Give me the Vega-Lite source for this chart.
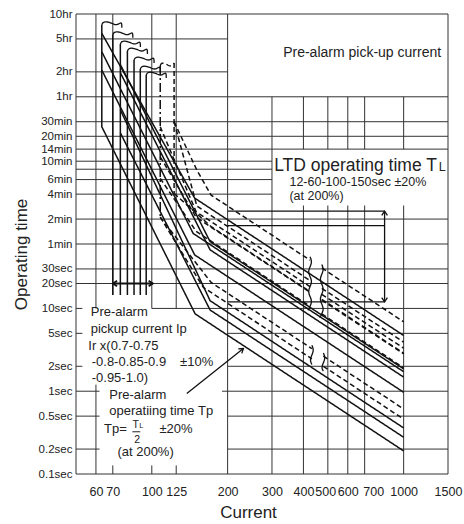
{
"$schema":"https://vega.github.io/schema/vega-lite/v6.json",
"width":372,"height":460,
"autosize":{"type":"none"},
"padding":{"left":76,"top":14,"right":16,"bottom":50},
"background":"white",
"config":{"view":{"stroke":null},"font":"Liberation Sans"},
"encoding":{
 "x":{"field":"x","type":"quantitative","scale":{"type":"log","domain":[50,1500],"nice":false},
  "axis":{"values":[60,70,100,125,200,300,400,488,600,757,1000,1500],"format":"d","labelExpr":"datum.value==757?'700':datum.value==488?'500':datum.label","grid":false,"ticks":false,"tickSize":0,"domain":false,"labelFontSize":12.5,"labelFont":"Liberation Sans","labelColor":"#222","labelPadding":11,"labelOverlap":false,"labelFlush":false,"title":"Current","titleFontSize":17,"titleFont":"Liberation Sans","titleFontWeight":"normal","titleColor":"#222","titleX":172,"titleY":38,"titleBaseline":"middle","titleAlign":"center"}},
 "y":{"field":"t","type":"quantitative","scale":{"type":"log","domain":[0.1,36000],"nice":false},
  "axis":{"values":[0.1,0.2,0.5,1,2,5,10,20,30,60,120,240,360,600,840,1200,1800,3600,7200,18000,36000],
   "labelExpr":"datum.value==36000?'10hr':datum.value==18000?'5hr':datum.value==7200?'2hr':datum.value==3600?'1hr':datum.value==1800?'30min':datum.value==1200?'20min':datum.value==840?'14min':datum.value==600?'10min':datum.value==360?'6min':datum.value==240?'4min':datum.value==120?'2min':datum.value==60?'1min':datum.value+'sec'",
   "grid":false,"ticks":false,"tickSize":0,"domain":false,"labelFontSize":11.5,"labelFont":"Liberation Sans","labelColor":"#222","labelPadding":4,"labelOverlap":false,"labelFlush":false,"labelBaseline":"middle",
   "title":"Operating time","titleFontSize":17,"titleFont":"Liberation Sans","titleFontWeight":"normal","titleColor":"#222","titleX":-55,"titleY":240,"titleAngle":-90,"titleBaseline":"middle","titleAlign":"center"}}
},
"layer":[
 {"data":{"values":[
  {"t":36000,"x":50,"x2":1500},{"t":18000,"x":50,"x2":200},{"t":7200,"x":50,"x2":200},
  {"t":3600,"x":50,"x2":1500},{"t":1800,"x":50,"x2":1500},{"t":1200,"x":50,"x2":1500},{"t":840,"x":50,"x2":1500},
  {"t":600,"x":50,"x2":300},{"t":480,"x":50,"x2":300},{"t":360,"x":50,"x2":300},{"t":240,"x":50,"x2":300},
  {"t":120,"x":50,"x2":1500},{"t":60,"x":50,"x2":1500},{"t":30,"x":50,"x2":1500},{"t":20,"x":50,"x2":1500},
  {"t":10,"x":50,"x2":53},{"t":10,"x":100,"x2":1500},
  {"t":5,"x":50,"x2":53},{"t":5,"x":200,"x2":1500},
  {"t":2,"x":50,"x2":53},{"t":2,"x":200,"x2":1500},
  {"t":1,"x":50,"x2":62},{"t":1,"x":190,"x2":1500},
  {"t":0.5,"x":50,"x2":62},{"t":0.5,"x":200,"x2":1500},
  {"t":0.2,"x":50,"x2":62},{"t":0.2,"x":200,"x2":1500},
  {"t":0.1,"x":50,"x2":1500}]},
  "mark":{"type":"rule","stroke":"#333","strokeWidth":1},
  "encoding":{"x2":{"field":"x2"}}},
 {"data":{"values":[
  {"x":50,"t":0.1,"t2":36000},
  {"x":60,"t":10,"t2":36000},{"x":60,"t":0.1,"t2":1.2},
  {"x":70,"t":14.5,"t2":36000},{"x":70,"t":0.1,"t2":0.127},
  {"x":100,"t":10,"t2":36000},{"x":100,"t":0.1,"t2":0.127},
  {"x":125,"t":10,"t2":36000},{"x":125,"t":0.1,"t2":0.127},
  {"x":200,"t":0.1,"t2":36000},
  {"x":300,"t":0.1,"t2":3600},
  {"x":400,"t":840,"t2":3600},{"x":400,"t":0.1,"t2":175},
  {"x":500,"t":840,"t2":3600},{"x":500,"t":0.1,"t2":175},
  {"x":600,"t":840,"t2":3600},{"x":600,"t":0.1,"t2":175},
  {"x":700,"t":840,"t2":3600},{"x":700,"t":0.1,"t2":175},
  {"x":1000,"t":840,"t2":3600},{"x":1000,"t":0.1,"t2":175},
  {"x":1500,"t":0.1,"t2":36000}]},
  "mark":{"type":"rule","stroke":"#333","strokeWidth":1},
  "encoding":{"y2":{"field":"t2"}}},
 {"data":{"values":[{"t":150,"x":200,"x2":840},{"t":100,"x":200,"x2":840},{"t":12,"x":200,"x2":840}]},
  "mark":{"type":"rule","stroke":"#111","strokeWidth":1.2},
  "encoding":{"x2":{"field":"x2"}}},
 {"data":{"values":[{"x":840,"t":12,"t2":150}]},
  "mark":{"type":"rule","stroke":"#111","strokeWidth":1.3},
  "encoding":{"y2":{"field":"t2"}}},
 {"data":{"values":[{"t":20,"x":70,"x2":101}]},
  "mark":{"type":"rule","stroke":"#111","strokeWidth":2},
  "encoding":{"x2":{"field":"x2"}}},
 {"data":{"values":[{"x":137.7,"t":0.937,"x2":231,"t2":3.28}]},
  "mark":{"type":"rule","stroke":"#111","strokeWidth":1.3},
  "encoding":{"x2":{"field":"x2"},"y2":{"field":"t2"}}},
 {"data":{"values":[{"x":83.7,"x2":90,"t":0.3236}]},
  "mark":{"type":"rule","stroke":"#222","strokeWidth":1},
  "encoding":{"x2":{"field":"x2"}}},
 {"data":{"values":[
  {"id":"P1","st":"s","o":0,"x":63.3,"t":26714},{"id":"P1","st":"s","o":1,"x":63.3,"t":1563},{"id":"P1","st":"s","o":2,"x":148.6,"t":8.6},{"id":"P1","st":"s","o":3,"x":1000,"t":0.19},
  {"id":"P2","st":"s","o":0,"x":63.3,"t":7570},{"id":"P2","st":"s","o":1,"x":148,"t":44.3},{"id":"P2","st":"s","o":2,"x":1000,"t":0.97},
  {"id":"P3","st":"s","o":0,"x":63.3,"t":12600},{"id":"P3","st":"s","o":1,"x":146,"t":80.4},{"id":"P3","st":"s","o":2,"x":1000,"t":1.72},
  {"id":"P4","st":"s","o":0,"x":63.3,"t":21000},{"id":"P4","st":"s","o":1,"x":148,"t":215},{"id":"P4","st":"s","o":2,"x":1000,"t":4.71},
  {"id":"P5","st":"s","o":0,"x":75,"t":1318},{"id":"P5","st":"s","o":1,"x":170.4,"t":9.57},{"id":"P5","st":"s","o":2,"x":1000,"t":0.278},
  {"id":"P6","st":"s","o":0,"x":75,"t":7030},{"id":"P6","st":"s","o":1,"x":170.4,"t":51},{"id":"P6","st":"s","o":2,"x":1000,"t":1.48},
  {"id":"P7","st":"s","o":0,"x":75,"t":8810},{"id":"P7","st":"s","o":1,"x":170.4,"t":64},{"id":"P7","st":"s","o":2,"x":1000,"t":1.86},
  {"id":"P8","st":"s","o":0,"x":75,"t":2500},{"id":"P8","st":"s","o":1,"x":170.4,"t":12.4},{"id":"P8","st":"s","o":2,"x":1000,"t":0.36},
  {"id":"V70","st":"s","o":0,"x":70,"t":20220},{"id":"V70","st":"s","o":1,"x":70,"t":14.5},
  {"id":"V75","st":"s","o":0,"x":75,"t":15611},{"id":"V75","st":"s","o":1,"x":75,"t":14.5},
  {"id":"V80","st":"s","o":0,"x":80,"t":12842},{"id":"V80","st":"s","o":1,"x":80,"t":14.5},
  {"id":"V85","st":"s","o":0,"x":85,"t":10000},{"id":"V85","st":"s","o":1,"x":85,"t":14.5},
  {"id":"V90","st":"s","o":0,"x":90,"t":7784},{"id":"V90","st":"s","o":1,"x":90,"t":14.5},
  {"id":"V95","st":"s","o":0,"x":95,"t":6588},{"id":"V95","st":"s","o":1,"x":95,"t":14.5},
  {"id":"LV1","st":"dd","o":0,"x":108,"t":8463},{"id":"LV1","st":"dd","o":1,"x":108,"t":126.6},
  {"id":"LV2","st":"d","o":0,"x":122.6,"t":9200},{"id":"LV2","st":"d","o":1,"x":122.6,"t":245},
  {"id":"L1a","st":"d","o":0,"x":108,"t":126.6},{"id":"L1a","st":"d","o":1,"x":160,"t":18},{"id":"L1a","st":"d","o":2,"x":432,"t":2.46},
  {"id":"L1b","st":"d","o":0,"x":480,"t":2.0},{"id":"L1b","st":"d","o":1,"x":1000,"t":0.46},
  {"id":"L5a","st":"d","o":0,"x":108,"t":126.6},{"id":"L5a","st":"d","o":1,"x":172,"t":20.6},{"id":"L5a","st":"d","o":2,"x":432,"t":3.27},
  {"id":"L5b","st":"d","o":0,"x":480,"t":2.65},{"id":"L5b","st":"d","o":1,"x":1000,"t":0.61},
  {"id":"L2a","st":"d","o":0,"x":108,"t":372},{"id":"L2a","st":"d","o":1,"x":150,"t":85.3},{"id":"L2a","st":"d","o":2,"x":425,"t":10.6},
  {"id":"L2b","st":"d","o":0,"x":473,"t":8.58},{"id":"L2b","st":"d","o":1,"x":1000,"t":1.92},
  {"id":"L3a","st":"d","o":0,"x":108,"t":678},{"id":"L3a","st":"d","o":1,"x":150,"t":126},{"id":"L3a","st":"d","o":2,"x":425,"t":15.7},
  {"id":"L3b","st":"d","o":0,"x":473,"t":12.6},{"id":"L3b","st":"d","o":1,"x":1000,"t":2.83},
  {"id":"L4a","st":"d","o":0,"x":108,"t":1563},{"id":"L4a","st":"d","o":1,"x":150,"t":147},{"id":"L4a","st":"d","o":2,"x":425,"t":18.3},
  {"id":"L4b","st":"d","o":0,"x":473,"t":14.8},{"id":"L4b","st":"d","o":1,"x":1000,"t":3.31},
  {"id":"L6a","st":"d","o":0,"x":122.6,"t":245},{"id":"L6a","st":"d","o":1,"x":172,"t":97.4},{"id":"L6a","st":"d","o":2,"x":425,"t":15.9},
  {"id":"L6b","st":"d","o":0,"x":473,"t":12.9},{"id":"L6b","st":"d","o":1,"x":1000,"t":2.88},
  {"id":"L7a","st":"d","o":0,"x":122.6,"t":1797},{"id":"L7a","st":"d","o":1,"x":151,"t":172},{"id":"L7a","st":"d","o":2,"x":425,"t":21.7},
  {"id":"L7b","st":"d","o":0,"x":473,"t":17.5},{"id":"L7b","st":"d","o":1,"x":1000,"t":3.92},
  {"id":"L8a","st":"d","o":0,"x":122.6,"t":1797},{"id":"L8a","st":"d","o":1,"x":151,"t":468},{"id":"L8a","st":"d","o":2,"x":172,"t":233},{"id":"L8a","st":"d","o":3,"x":425,"t":38.2},
  {"id":"L8b","st":"d","o":0,"x":473,"t":30.8},{"id":"L8b","st":"d","o":1,"x":1000,"t":6.9}]},
  "mark":{"type":"line","stroke":"#111","strokeWidth":1.5},
  "encoding":{"detail":{"field":"id"},"order":{"field":"o","type":"quantitative"},
   "strokeDash":{"field":"st","type":"nominal","scale":{"domain":["s","d","dd"],"range":[[1,0],[5,3],[9,3,2,3]]},"legend":null}}},
 {"data":{"values":[
  {"id":"Q1","st":"s","o":0,"x":63.3,"t":26714},{"id":"Q1","st":"s","o":1,"x":63.88,"t":28401},{"id":"Q1","st":"s","o":2,"x":65.06,"t":29040},{"id":"Q1","st":"s","o":3,"x":67.48,"t":28799},{"id":"Q1","st":"s","o":4,"x":70.0,"t":27469},{"id":"Q1","st":"s","o":5,"x":71.95,"t":26490},{"id":"Q1","st":"s","o":6,"x":73.95,"t":27240},{"id":"Q1","st":"s","o":7,"x":76.02,"t":29040},{"id":"Q1","st":"s","o":8,"x":76.02,"t":24574},
  {"id":"Q2","st":"s","o":0,"x":70,"t":20220},{"id":"Q2","st":"s","o":1,"x":70.64,"t":21496},{"id":"Q2","st":"s","o":2,"x":71.95,"t":21980},{"id":"Q2","st":"s","o":3,"x":74.63,"t":21798},{"id":"Q2","st":"s","o":4,"x":77.41,"t":20791},{"id":"Q2","st":"s","o":5,"x":79.56,"t":20050},{"id":"Q2","st":"s","o":6,"x":81.78,"t":20617},{"id":"Q2","st":"s","o":7,"x":84.06,"t":21980},{"id":"Q2","st":"s","o":8,"x":84.06,"t":18600},
  {"id":"Q3","st":"s","o":0,"x":75,"t":15611},{"id":"Q3","st":"s","o":1,"x":75.69,"t":16597},{"id":"Q3","st":"s","o":2,"x":77.09,"t":16970},{"id":"Q3","st":"s","o":3,"x":79.96,"t":16829},{"id":"Q3","st":"s","o":4,"x":82.94,"t":16052},{"id":"Q3","st":"s","o":5,"x":85.25,"t":15480},{"id":"Q3","st":"s","o":6,"x":87.62,"t":15918},{"id":"Q3","st":"s","o":7,"x":90.07,"t":16970},{"id":"Q3","st":"s","o":8,"x":90.07,"t":14360},
  {"id":"Q4","st":"s","o":0,"x":80,"t":12842},{"id":"Q4","st":"s","o":1,"x":80.74,"t":13653},{"id":"Q4","st":"s","o":2,"x":82.22,"t":13960},{"id":"Q4","st":"s","o":3,"x":85.29,"t":13844},{"id":"Q4","st":"s","o":4,"x":88.46,"t":13205},{"id":"Q4","st":"s","o":5,"x":90.93,"t":12734},{"id":"Q4","st":"s","o":6,"x":93.46,"t":13094},{"id":"Q4","st":"s","o":7,"x":96.07,"t":13960},{"id":"Q4","st":"s","o":8,"x":96.07,"t":11813},
  {"id":"Q5","st":"s","o":0,"x":85,"t":10000},{"id":"Q5","st":"s","o":1,"x":85.78,"t":10631},{"id":"Q5","st":"s","o":2,"x":87.36,"t":10870},{"id":"Q5","st":"s","o":3,"x":90.62,"t":10780},{"id":"Q5","st":"s","o":4,"x":93.99,"t":10282},{"id":"Q5","st":"s","o":5,"x":96.61,"t":9916},{"id":"Q5","st":"s","o":6,"x":99.31,"t":10196},{"id":"Q5","st":"s","o":7,"x":102.08,"t":10870},{"id":"Q5","st":"s","o":8,"x":102.08,"t":9198},
  {"id":"Q6","st":"s","o":0,"x":90,"t":7784},{"id":"Q6","st":"s","o":1,"x":90.83,"t":8276},{"id":"Q6","st":"s","o":2,"x":92.5,"t":8462},{"id":"Q6","st":"s","o":3,"x":95.95,"t":8392},{"id":"Q6","st":"s","o":4,"x":99.52,"t":8004},{"id":"Q6","st":"s","o":5,"x":102.29,"t":7719},{"id":"Q6","st":"s","o":6,"x":105.15,"t":7937},{"id":"Q6","st":"s","o":7,"x":108.08,"t":8462},{"id":"Q6","st":"s","o":8,"x":108.08,"t":7161},
  {"id":"Q7","st":"s","o":0,"x":95,"t":6588},{"id":"Q7","st":"s","o":1,"x":95.87,"t":7003},{"id":"Q7","st":"s","o":2,"x":97.64,"t":7161},{"id":"Q7","st":"s","o":3,"x":101.28,"t":7102},{"id":"Q7","st":"s","o":4,"x":105.05,"t":6774},{"id":"Q7","st":"s","o":5,"x":107.98,"t":6532},{"id":"Q7","st":"s","o":6,"x":110.99,"t":6717},{"id":"Q7","st":"s","o":7,"x":114.09,"t":7161},{"id":"Q7","st":"s","o":8,"x":114.09,"t":6060},
  {"id":"QD","st":"d","o":0,"x":108,"t":8463},{"id":"QD","st":"d","o":1,"x":108.6,"t":8998},{"id":"QD","st":"d","o":2,"x":109.9,"t":9200},{"id":"QD","st":"d","o":3,"x":112.8,"t":9124},{"id":"QD","st":"d","o":4,"x":115.6,"t":8702},{"id":"QD","st":"d","o":5,"x":117.9,"t":8392},{"id":"QD","st":"d","o":6,"x":120.3,"t":8630},{"id":"QD","st":"d","o":7,"x":122.6,"t":9200},
  {"id":"B1","st":"s","o":0,"x":425,"t":42},{"id":"B1","st":"s","o":1,"x":432.9,"t":36.6},{"id":"B1","st":"s","o":2,"x":425,"t":31.9},{"id":"B1","st":"s","o":3,"x":417.3,"t":27.8},{"id":"B1","st":"s","o":4,"x":425,"t":24.2},{"id":"B1","st":"s","o":5,"x":432.9,"t":21.1},{"id":"B1","st":"s","o":6,"x":425,"t":18.4},{"id":"B1","st":"s","o":7,"x":417.3,"t":16.0},{"id":"B1","st":"s","o":8,"x":425,"t":13.9},{"id":"B1","st":"s","o":9,"x":432.9,"t":12.1},{"id":"B1","st":"s","o":10,"x":425,"t":10.6},{"id":"B1","st":"s","o":11,"x":417.3,"t":9.5},
  {"id":"B2","st":"s","o":0,"x":473,"t":34},{"id":"B2","st":"s","o":1,"x":481.7,"t":29.6},{"id":"B2","st":"s","o":2,"x":473,"t":25.8},{"id":"B2","st":"s","o":3,"x":464.4,"t":22.5},{"id":"B2","st":"s","o":4,"x":473,"t":19.6},{"id":"B2","st":"s","o":5,"x":481.7,"t":17.1},{"id":"B2","st":"s","o":6,"x":473,"t":14.9},{"id":"B2","st":"s","o":7,"x":464.4,"t":12.9},{"id":"B2","st":"s","o":8,"x":473,"t":11.3},{"id":"B2","st":"s","o":9,"x":481.7,"t":9.8},{"id":"B2","st":"s","o":10,"x":473,"t":8.6},{"id":"B2","st":"s","o":11,"x":464.4,"t":7.7},
  {"id":"B3","st":"s","o":0,"x":432,"t":3.6},{"id":"B3","st":"s","o":1,"x":440,"t":3.14},{"id":"B3","st":"s","o":2,"x":432,"t":2.73},{"id":"B3","st":"s","o":3,"x":424.2,"t":2.38},{"id":"B3","st":"s","o":4,"x":432,"t":2.1},
  {"id":"B4","st":"s","o":0,"x":480,"t":2.9},{"id":"B4","st":"s","o":1,"x":488.9,"t":2.53},{"id":"B4","st":"s","o":2,"x":480,"t":2.2},{"id":"B4","st":"s","o":3,"x":471.3,"t":1.92},{"id":"B4","st":"s","o":4,"x":480,"t":1.75}]},
  "mark":{"type":"line","stroke":"#111","strokeWidth":1.3,"interpolate":"basis"},
  "encoding":{"detail":{"field":"id"},"order":{"field":"o","type":"quantitative"},
   "strokeDash":{"field":"st","type":"nominal","scale":{"domain":["s","d","dd"],"range":[[1,0],[5,3],[9,3,2,3]]},"legend":null}}},
 {"data":{"values":[{"x":840,"t":150}]},"mark":{"type":"point","shape":"M -0.6 0.9 L 0 0 L 0.6 0.9","filled":false,"stroke":"#111","strokeWidth":1.3,"size":90,"angle":0,"opacity":1}},
 {"data":{"values":[{"x":840,"t":12}]},"mark":{"type":"point","shape":"M -0.6 0.9 L 0 0 L 0.6 0.9","filled":false,"stroke":"#111","strokeWidth":1.3,"size":90,"angle":180,"opacity":1}},
 {"data":{"values":[{"x":70,"t":20}]},"mark":{"type":"point","shape":"M -0.6 0.9 L 0 0 L 0.6 0.9","filled":false,"stroke":"#111","strokeWidth":1.8,"size":90,"angle":270,"opacity":1}},
 {"data":{"values":[{"x":101,"t":20}]},"mark":{"type":"point","shape":"M -0.6 0.9 L 0 0 L 0.6 0.9","filled":false,"stroke":"#111","strokeWidth":1.8,"size":90,"angle":90,"opacity":1}},
 {"data":{"values":[{"x":231,"t":3.28}]},"mark":{"type":"point","shape":"M -0.6 0.9 L 0 0 L 0.6 0.9","filled":false,"stroke":"#111","strokeWidth":1.3,"size":90,"angle":51.5,"opacity":1}},
 {"data":{"values":[{"label":"Pre-alarm pick-up current","x":332.3,"t":12150}]},
  "mark":{"type":"text","align":"left","baseline":"middle","fontSize":14,"font":"Liberation Sans","fill":"#222"},
  "encoding":{"text":{"field":"label"}}},
 {"data":{"values":[{"label":"LTD operating time T","x":306,"t":455}]},
  "mark":{"type":"text","align":"left","baseline":"alphabetic","fontSize":17.5,"font":"Liberation Sans","fill":"#222"},
  "encoding":{"text":{"field":"label"}}},
 {"data":{"values":[{"label":"L","x":1377,"t":455}]},
  "mark":{"type":"text","align":"left","baseline":"alphabetic","fontSize":12.5,"font":"Liberation Sans","fill":"#222"},
  "encoding":{"text":{"field":"label"}}},
 {"data":{"values":[
  {"label":"12-60-100-150sec ±20%","x":352,"t":338},
  {"label":"(at 200%)","x":352,"t":228}]},
  "mark":{"type":"text","align":"left","baseline":"middle","fontSize":12.5,"font":"Liberation Sans","fill":"#222"},
  "encoding":{"text":{"field":"label"}}},
 {"data":{"values":[
  {"label":"Pre-alarm","x":57.2,"t":9.0},
  {"label":"pickup current Ip","x":57.2,"t":5.655},
  {"label":"Ir x(0.7-0.75","x":55.96,"t":3.563},
  {"label":"-0.8-0.85-0.9","x":57.73,"t":2.239},
  {"label":"±10%","x":129.5,"t":2.239},
  {"label":"-0.95-1.0)","x":57.73,"t":1.434},
  {"label":"Pre-alarm","x":67.8,"t":0.901},
  {"label":"operatiing time Tp","x":67.8,"t":0.5726},
  {"label":"Tp=","x":64.6,"t":0.3498},
  {"label":"±20%","x":107.2,"t":0.3498},
  {"label":"(at 200%)","x":73.0,"t":0.1829}]},
  "mark":{"type":"text","align":"left","baseline":"middle","fontSize":13,"font":"Liberation Sans","fill":"#222"},
  "encoding":{"text":{"field":"label"}}},
 {"data":{"values":[{"label":"T","x":83.8,"t":0.39},{"label":"2","x":85.2,"t":0.2553}]},
  "mark":{"type":"text","align":"left","baseline":"middle","fontSize":10.5,"font":"Liberation Sans","fill":"#222"},
  "encoding":{"text":{"field":"label"}}},
 {"data":{"values":[{"label":"L","x":89.2,"t":0.38}]},
  "mark":{"type":"text","align":"left","baseline":"middle","fontSize":7.5,"font":"Liberation Sans","fill":"#222"},
  "encoding":{"text":{"field":"label"}}}
]
}
